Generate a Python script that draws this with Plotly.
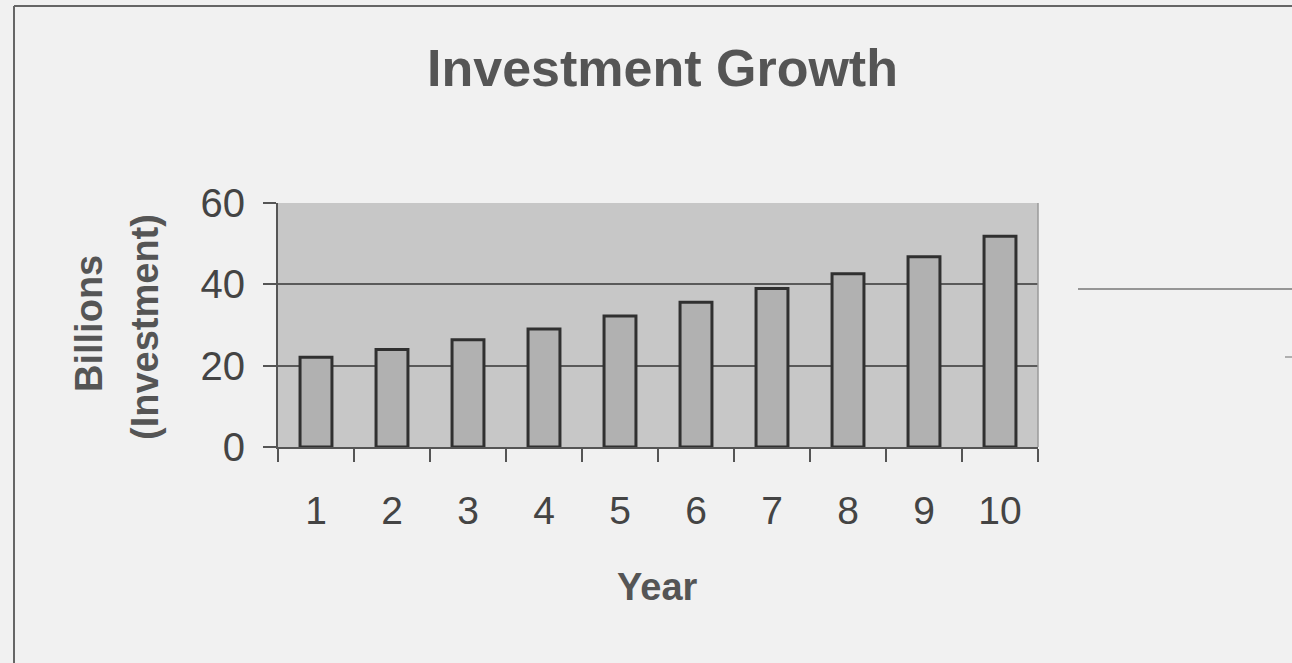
import plotly.graph_objects as go

# Investment by year (billions)
years = [1, 2, 3, 4, 5, 6, 7, 8, 9, 10]
investment = [22.1, 24.0, 26.4, 29.0, 32.2, 35.6, 39.0, 42.6, 46.8, 51.8]
y_ticks = [0, 20, 40, 60]

W, H = 1292, 663
L, R, T, B = 278, 1038, 203, 447  # plot area in pixels


def px_x(x):
    return (x - L) / (R - L)


def px_y(y):
    return (B - y) / (B - T)


FONT = "Liberation Sans, Arial, sans-serif"
INK = "#444444"

fig = go.Figure(
    go.Bar(
        x=years,
        y=investment,
        width=0.42,
        marker=dict(color="#b1b1b1", line=dict(color="#303030", width=3)),
        hoverinfo="x+y",
    )
)

fig.update_layout(
    width=W,
    height=H,
    margin=dict(l=L, r=W - R, t=T, b=H - B, pad=0),
    paper_bgcolor="#f1f1f1",
    plot_bgcolor="#c7c7c7",
    showlegend=False,
    bargap=0.5,
)

fig.update_xaxes(
    range=[0.5, 10.5],
    tickmode="array",
    tickvals=years,
    ticktext=[str(v) for v in years],
    ticks="",
    ticklabelstandoff=28,
    tickfont=dict(family=FONT, size=39, color=INK),
    showgrid=False,
    zeroline=False,
    showline=True,
    linecolor="#555555",
    linewidth=2,
    minor=dict(ticks="outside", tick0=0.5, dtick=1, ticklen=13, tickwidth=1.5,
               tickcolor="#555555", showgrid=False),
    fixedrange=True,
)

fig.update_yaxes(
    range=[0, 60],
    tickmode="array",
    tickvals=y_ticks,
    ticks="outside",
    ticklen=13,
    tickwidth=1.5,
    tickcolor="#555555",
    ticklabelstandoff=10,
    tickfont=dict(family=FONT, size=40, color=INK),
    showgrid=True,
    gridcolor="#5a5a5a",
    gridwidth=1.5,
    zeroline=False,
    showline=True,
    linecolor="#555555",
    linewidth=2,
    fixedrange=True,
)

# Plot-area right border and outer chart frame
shapes = [
    dict(type="line", xref="paper", yref="paper", x0=1, x1=1, y0=0, y1=1,
         line=dict(color="#9a9a9a", width=1.5)),
    dict(type="line", xref="paper", yref="paper", x0=px_x(14), x1=px_x(14),
         y0=px_y(6), y1=px_y(H + 5), line=dict(color="#666666", width=2)),
    dict(type="line", xref="paper", yref="paper", x0=px_x(14), x1=px_x(W + 5),
         y0=px_y(6), y1=px_y(6), line=dict(color="#666666", width=2)),
    dict(type="line", xref="paper", yref="paper", x0=px_x(1078), x1=px_x(W + 5),
         y0=px_y(289), y1=px_y(289), line=dict(color="#777777", width=1.5)),
    dict(type="line", xref="paper", yref="paper", x0=px_x(1285), x1=px_x(W + 5),
         y0=px_y(357), y1=px_y(357), line=dict(color="#999999", width=1.5)),
]
fig.update_layout(shapes=shapes)

annotations = [
    dict(text="<b>Investment Growth</b>", x=px_x(662), y=px_y(68),
         xref="paper", yref="paper", xanchor="center", yanchor="middle",
         showarrow=False, font=dict(family=FONT, size=52, color="#555555")),
    dict(text="<b>Year</b>", x=px_x(657), y=px_y(587),
         xref="paper", yref="paper", xanchor="center", yanchor="middle",
         showarrow=False, font=dict(family=FONT, size=38, color="#555555")),
    dict(text="<b>Billions</b>", x=px_x(89), y=px_y(324), textangle=-90,
         xref="paper", yref="paper", xanchor="center", yanchor="middle",
         showarrow=False, font=dict(family=FONT, size=38, color="#555555")),
    dict(text="<b>(Investment)</b>", x=px_x(145), y=px_y(327), textangle=-90,
         xref="paper", yref="paper", xanchor="center", yanchor="middle",
         showarrow=False, font=dict(family=FONT, size=38, color="#555555")),
]
fig.update_layout(annotations=annotations)

fig.write_html("out.html", config={"displayModeBar": False})
